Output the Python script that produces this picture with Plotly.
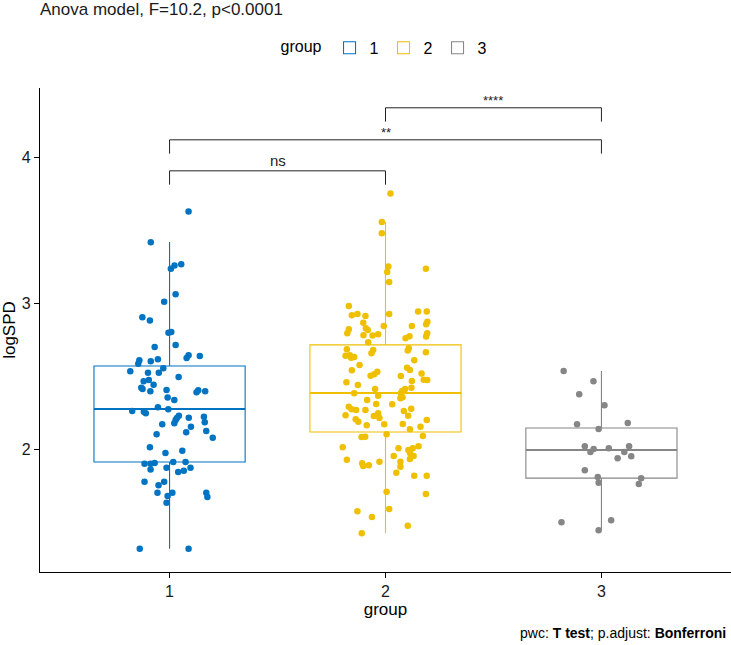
import plotly.graph_objects as go

# ---------------- data ----------------
groups = [1, 2, 3]
group_names = ["1", "2", "3"]
colors = ["#0073C2", "#EFC000", "#868686"]

# box statistics (logSPD)
q1 = [1.911, 2.117, 1.800]
median = [2.275, 2.385, 1.993]
q3 = [2.570, 2.715, 2.144]
lower_whisker = [1.315, 1.422, 1.442]
upper_whisker = [3.422, 3.559, 2.535]

# jittered observations: horizontal jitter (in group units) and logSPD value
jitter1 = [0.088, -0.087, 0.006, 0.023, 0.054, 0.028, -0.025, -0.126, -0.091, -0.005,
           0.008, -0.069, 0.028, 0.079, 0.088, 0.140, -0.140, -0.145, -0.087, -0.054,
           -0.029, -0.182, -0.100, -0.050, 0.042, -0.120, -0.096, -0.074, -0.131, -0.125,
           -0.089, -0.014, 0.125, 0.133, 0.165, -0.009, 0.022, -0.054, -0.006, -0.173,
           -0.119, -0.110, 0.043, 0.034, 0.028, 0.022, 0.089, 0.159, 0.163, -0.034,
           0.099, 0.077, 0.170, -0.060, 0.200, -0.091, -0.019, 0.059, -0.116, -0.088,
           -0.069, 0.017, 0.074, -0.088, -0.014, 0.040, 0.066, 0.097, -0.116, -0.051,
           -0.025, -0.056, 0.013, -0.009, 0.170, 0.175, -0.014, -0.138, 0.088]
values1 = [3.631, 3.421, 3.239, 3.260, 3.269, 3.063, 3.012, 2.905, 2.882, 2.799,
           2.804, 2.701, 2.715, 2.625, 2.644, 2.639, 2.610, 2.586, 2.603, 2.616,
           2.555, 2.534, 2.524, 2.524, 2.495, 2.465, 2.474, 2.442, 2.421, 2.412,
           2.397, 2.405, 2.390, 2.403, 2.397, 2.353, 2.337, 2.287, 2.273, 2.261,
           2.256, 2.245, 2.229, 2.213, 2.199, 2.177, 2.215, 2.222, 2.184, 2.170,
           2.153, 2.115, 2.124, 2.101, 2.078, 2.012, 1.973, 1.988, 1.899, 1.899,
           1.904, 1.911, 1.911, 1.860, 1.871, 1.842, 1.851, 1.871, 1.775, 1.751,
           1.775, 1.700, 1.700, 1.677, 1.700, 1.670, 1.631, 1.315, 1.315]

jitter2 = [0.023, -0.017, -0.017, 0.013, 0.008, 0.187, 0.017, -0.170, -0.156, -0.130,
           -0.093, 0.017, 0.151, 0.191, -0.103, 0.194, 0.188, -0.091, -0.082, -0.008,
           0.122, -0.170, -0.177, -0.102, -0.060, -0.034, 0.093, 0.111, 0.193, 0.188,
           -0.080, -0.179, -0.057, -0.065, 0.108, 0.103, -0.185, -0.165, -0.159, -0.145,
           0.187, 0.133, -0.120, -0.156, 0.100, 0.113, -0.038, -0.052, -0.069, 0.071,
           0.167, 0.177, 0.193, 0.122, -0.181, -0.128, -0.048, 0.120, 0.091, 0.077,
           0.071, 0.069, 0.079, -0.145, -0.034, -0.085, -0.170, -0.136, -0.157, -0.093,
           -0.043, 0.031, 0.085, 0.119, -0.185, -0.138, -0.126, -0.054, -0.034, -0.028,
           0.105, -0.087, -0.006, 0.080, 0.162, 0.191, 0.113, 0.005, 0.173, -0.111,
           -0.094, -0.198, 0.060, 0.106, 0.114, 0.126, 0.153, -0.179, 0.038, 0.113,
           0.130, -0.108, -0.103, -0.077, -0.028, 0.069, 0.069, 0.050, 0.133, 0.191,
           0.005, 0.187, -0.130, 0.017, -0.063, 0.103, -0.110]
values2 = [3.755, 3.559, 3.482, 3.253, 3.216, 3.239, 3.148, 2.983, 2.919, 2.928,
           2.914, 2.928, 2.944, 2.944, 2.868, 2.875, 2.857, 2.830, 2.818, 2.845,
           2.845, 2.823, 2.795, 2.781, 2.779, 2.788, 2.761, 2.775, 2.795, 2.772,
           2.733, 2.685, 2.680, 2.658, 2.692, 2.676, 2.641, 2.644, 2.627, 2.632,
           2.665, 2.610, 2.577, 2.541, 2.559, 2.543, 2.531, 2.513, 2.504, 2.502,
           2.518, 2.476, 2.474, 2.467, 2.458, 2.440, 2.412, 2.421, 2.412, 2.399,
           2.383, 2.348, 2.355, 2.383, 2.366, 2.337, 2.291, 2.268, 2.273, 2.268,
           2.309, 2.307, 2.261, 2.277, 2.232, 2.204, 2.188, 2.227, 2.245, 2.213,
           2.229, 2.163, 2.170, 2.172, 2.153, 2.199, 2.135, 2.101, 2.089, 2.082,
           2.085, 2.012, 2.005, 1.993, 1.970, 2.005, 2.019, 1.926, 1.952, 1.931,
           1.952, 1.902, 1.883, 1.888, 1.913, 1.913, 1.878, 1.837, 1.816, 1.816,
           1.707, 1.691, 1.572, 1.588, 1.533, 1.473, 1.422]

jitter3 = [-0.175, -0.037, -0.103, 0.014, -0.113, 0.122, -0.013, -0.077, -0.036, -0.051,
           0.034, 0.128, 0.106, 0.138, 0.075, -0.077, -0.017, -0.013, 0.184, 0.173,
           -0.185, 0.045, -0.013]
values3 = [2.535, 2.465, 2.376, 2.300, 2.170, 2.179, 2.137, 2.019, 2.000, 1.979,
           2.005, 2.019, 1.979, 1.950, 1.936, 1.854, 1.808, 1.768, 1.799, 1.759,
           1.496, 1.510, 1.442]

jitters = [jitter1, jitter2, jitter3]
values = [values1, values2, values3]

# pairwise comparisons (T test, Bonferroni)
pair_from = [1, 1, 2]
pair_to = [2, 3, 3]
pair_labels = ["ns", "**", "****"]
pair_y = [3.911, 4.124, 4.344]
tip_length = 0.095

title_text = "Anova model, F=10.2, p<0.0001"
caption_text = "pwc: <b>T test</b>; p.adjust: <b>Bonferroni</b>"

# ---------------- figure ----------------
FONT = "Liberation Sans, Arial, sans-serif"
BOX_W = 0.7
fig = go.Figure()

for g, name, c, a, m, b, lo, hi in zip(groups, group_names, colors, q1, median, q3,
                                        lower_whisker, upper_whisker):
    fig.add_trace(go.Box(
        x=[g], q1=[a], median=[m], q3=[b], lowerfence=[lo], upperfence=[hi],
        name=name, legendgroup=name, boxpoints=False, width=BOX_W,
        whiskerwidth=0, fillcolor="white", line=dict(color=c, width=1.1),
        hoverinfo="skip"))

for g, name, c, m in zip(groups, group_names, colors, median):
    fig.add_trace(go.Scatter(
        x=[g - BOX_W / 2, g + BOX_W / 2], y=[m, m], mode="lines",
        line=dict(color=c, width=2), showlegend=False, hoverinfo="skip"))

for g, name, c, jit, val in zip(groups, group_names, colors, jitters, values):
    fig.add_trace(go.Scatter(
        x=[g + j for j in jit], y=val, mode="markers", legendgroup=name,
        marker=dict(color=c, size=6.5, line=dict(width=0)),
        showlegend=False, hoverinfo="skip"))

annotations = []
for a, b, lab, yv in zip(pair_from, pair_to, pair_labels, pair_y):
    fig.add_trace(go.Scatter(
        x=[a, a, b, b], y=[yv - tip_length, yv, yv, yv - tip_length],
        mode="lines", line=dict(color="#222222", width=1),
        showlegend=False, hoverinfo="skip"))
    annotations.append(dict(
        x=(a + b) / 2, y=yv, xref="x", yref="y", text=lab, showarrow=False,
        yanchor="bottom", yshift=0 if lab == "ns" else -2,
        font=dict(family=FONT, size=15 if lab == "ns" else 13, color="#222222")))

annotations.append(dict(
    x=1, y=-0.126, xref="paper", yref="paper", text=caption_text, showarrow=False,
    xanchor="right", yanchor="middle", xshift=-3,
    font=dict(family=FONT, size=14, color="black")))

fig.update_layout(
    width=731, height=645,
    margin=dict(l=40, r=0, t=88, b=73, autoexpand=False),
    paper_bgcolor="white", plot_bgcolor="white",
    font=dict(family=FONT, color="black"),
    title=dict(text=title_text, x=40 / 731, xref="container", xanchor="left",
               y=1 - 9 / 645, yref="container", yanchor="middle",
               font=dict(family=FONT, size=17, color="#1a1a1a")),
    showlegend=True,
    legend=dict(orientation="h", x=0.5, xanchor="center", y=1.083, yanchor="middle",
                title=dict(text="group", font=dict(family=FONT, size=16)),
                font=dict(family=FONT, size=16, color="black"),
                itemwidth=30, bgcolor="rgba(0,0,0,0)"),
    annotations=annotations,
    xaxis=dict(range=[0.4, 3.6], tickvals=groups, ticktext=group_names,
               showgrid=False, zeroline=False, showline=True, linecolor="black",
               linewidth=1.1, ticks="outside", ticklen=5, tickcolor="black",
               automargin=False,
               tickfont=dict(family=FONT, size=16, color="#1a1a1a"),
               title=dict(text="group", font=dict(family=FONT, size=17), standoff=2)),
    yaxis=dict(range=[1.155, 4.48], tickvals=[2, 3, 4],
               showgrid=False, zeroline=False, showline=True, linecolor="black",
               linewidth=1.1, ticks="outside", ticklen=5, tickcolor="black",
               automargin=False,
               tickfont=dict(family=FONT, size=16, color="#1a1a1a"),
               title=dict(text="logSPD", font=dict(family=FONT, size=17), standoff=2)),
)

fig.write_html(
    "out.html",
    config={"displayModeBar": False},
    post_script="document.body.style.margin='0';document.body.style.overflow='hidden';",
)
